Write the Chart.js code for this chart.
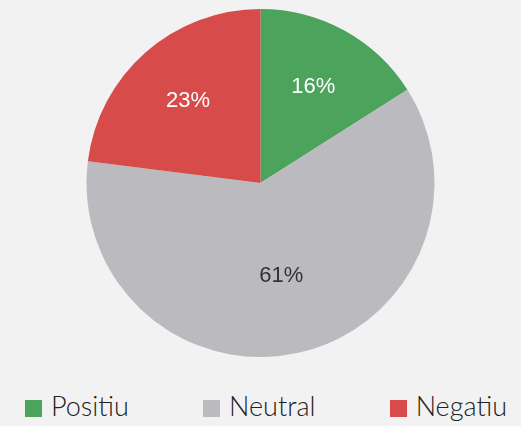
<!DOCTYPE html>
<html>
<head>
  <meta charset="UTF-8" />
  <title>Pie</title>
  <script src="https://cdn.jsdelivr.net/npm/chart.js"></script>
  <style>
    body { margin: 0; background: #f2f2f2; }
    .wrap { width: 521px; height: 426px; position: relative; overflow: hidden; }
    #chartPie { display: block; }
    .legend { display: flex; justify-content: space-between; padding: 0 14px 0 25px; margin-top: 25px; }
    .item { display: flex; align-items: center; font-family: Lato, sans-serif; font-weight: 300; font-size: 27px; line-height: 30px; color: #222; }
    .box { width: 17px; height: 17px; margin-right: 9px; margin-top: 5px; }
  </style>
</head>
<body>
  <div class="wrap">
    <canvas id="chartPie" width="521" height="366"></canvas>
    <div class="legend" id="legend"></div>
  </div>
<script>
  // dados do gráfico
  var rotulos = ["Positiu", "Neutral", "Negatiu"];
  var valores = [16, 61, 23];
  var cores = ['#4ca35b', '#bbbabf', '#d84b4b'];
  var coresTexto = ['#ffffff', '#333333', '#ffffff'];

  // escreve os percentuais dentro das fatias
  var rotulosFatias = {
    id: 'rotulosFatias',
    afterDatasetsDraw: function (chart) {
      var ctx = chart.ctx;
      var meta = chart.getDatasetMeta(0);
      ctx.save();
      ctx.font = '22px "Liberation Sans", Arial, sans-serif';
      ctx.textAlign = 'center';
      ctx.textBaseline = 'middle';
      meta.data.forEach(function (arc, i) {
        var p = arc.getProps(['x', 'y', 'startAngle', 'endAngle', 'outerRadius']);
        var a = (p.startAngle + p.endAngle) / 2;
        var r = p.outerRadius * (valores[i] > 50 ? 0.55 : 0.63);
        ctx.fillStyle = coresTexto[i];
        ctx.fillText(valores[i] + '%', p.x + Math.cos(a) * r, p.y + Math.sin(a) * r);
      });
      ctx.restore();
    }
  };

  var ctxPie = document.getElementById("chartPie").getContext("2d");
  var configPie = {
    type: 'pie',
    data: {
      labels: rotulos,
      datasets: [{
        data: valores,
        backgroundColor: cores,
        borderWidth: 0
      }]
    },
    options: {
      responsive: false,
      animation: false,
      layout: { padding: { top: 9, bottom: 9 } },
      plugins: {
        legend: { display: false },
        tooltip: { enabled: false }
      }
    },
    plugins: [rotulosFatias]
  };
  var ax_chartPie = new Chart(ctxPie, configPie);

  // legenda em HTML
  var leg = document.getElementById('legend');
  rotulos.forEach(function (r, i) {
    var d = document.createElement('div');
    d.className = 'item';
    d.innerHTML = '<span class="box" style="background:' + cores[i] + '"></span>' + r;
    leg.appendChild(d);
  });
</script>
</body>
</html>
